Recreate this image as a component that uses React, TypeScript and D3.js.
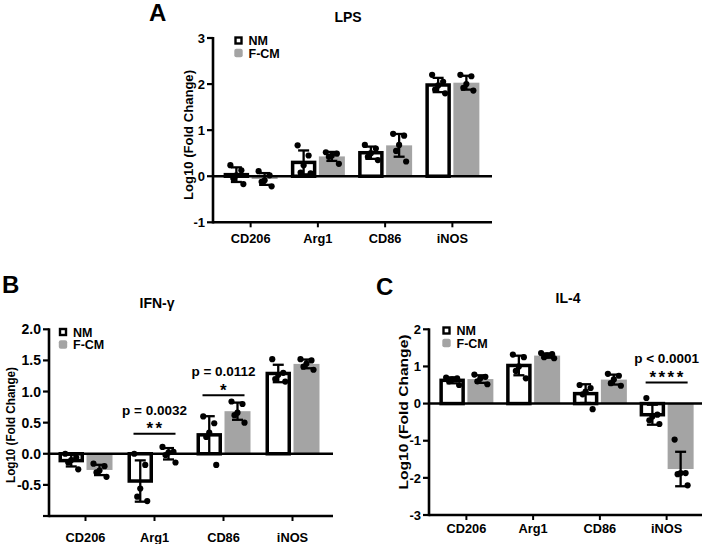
import React from "react";
import * as d3 from "d3";

const categories = ["CD206", "Arg1", "CD86", "iNOS"];
const seriesNames = ["NM", "F-CM"];

// Panel A - LPS (individual replicate values, log10 fold change)
const lpsNM = [
  [0.24, 0.13, 0.02, -0.05, -0.17],
  [0.67, 0.45, 0.24, 0.08, 0.06],
  [0.68, 0.6, 0.5, 0.42, 0.35],
  [2.2, 2.05, 1.97, 1.88, 1.8],
];
const lpsFCM = [
  [0.11, 0.02, -0.09, -0.12, -0.22],
  [0.52, 0.49, 0.45, 0.42, 0.27],
  [0.92, 0.88, 0.68, 0.55, 0.32],
  [2.2, 2.17, 2.0, 1.92, 1.86],
];

// Panel B - IFN-γ
const ifnNM = [
  [0.0, -0.06, -0.1, -0.14, -0.25],
  [0.0, -0.18, -0.56, -0.69, -0.76],
  [0.6, 0.49, 0.34, 0.27, -0.18],
  [1.52, 1.3, 1.27, 1.2, 1.16],
];
const ifnFCM = [
  [-0.16, -0.2, -0.27, -0.3, -0.37],
  [0.11, 0.03, 0.02, -0.02, -0.14],
  [0.84, 0.8, 0.66, 0.62, 0.5],
  [1.52, 1.5, 1.45, 1.4, 1.35],
];

// Panel C - IL-4
const il4NM = [
  [0.7, 0.68, 0.65, 0.6, 0.5],
  [1.32, 1.25, 1.0, 0.88, 0.68],
  [0.5, 0.42, 0.32, 0.25, -0.15],
  [0.15, -0.3, -0.35, -0.45, -0.55],
];
const il4FCM = [
  [0.78, 0.72, 0.68, 0.6, 0.52],
  [1.36, 1.33, 1.3, 1.25, 1.22],
  [0.8, 0.75, 0.65, 0.55, 0.48],
  [-0.97, -1.87, -1.87, -1.9, -2.2],
];

const ticksA = [-1, 0, 1, 2, 3];
const ticksB = [-0.5, 0, 0.5, 1, 1.5, 2];
const ticksC = [-3, -2, -1, 0, 1, 2];

// significance annotations: category, bar height (value), p text, stars
const sigB = [
  { cat: "Arg1", level: 0.32, p: "p = 0.0032", stars: "**" },
  { cat: "CD86", level: 0.94, p: "p = 0.0112", stars: "*" },
];
const sigC = [{ cat: "iNOS", level: 0.57, p: "p < 0.0001", stars: "****" }];

const FONT = "'Liberation Sans', Arial, Helvetica, sans-serif";
const GRAY = "#a4a4a4";
const JITTER = [-6, 5, 0, -3, 7];

type Sig = { cat: string; level: number; p: string; stars: string };
type PanelProps = {
  letter: string;
  letterX: number;
  letterY: number;
  title: string;
  titleX: number;
  titleY: number;
  x0: number;
  x1: number;
  bandL: number;
  bandR: number;
  yTop: number;
  yBot: number;
  domain: [number, number];
  ticks: number[];
  tickSize: number;
  fmt: (v: number) => string;
  catY: number;
  ylabX: number;
  ylabY: number;
  ylabLen: number;
  legX: number;
  legY: number;
  nm: number[][];
  fcm: number[][];
  sig: Sig[];
};

function Panel(p: PanelProps) {
  const y = d3.scaleLinear().domain(p.domain).range([p.yBot, p.yTop]);
  const x = d3.scaleBand().domain(categories).range([p.bandL, p.bandR]).padding(0);
  const center = (c: string) => (x(c) as number) + x.bandwidth() / 2;
  const y0 = y(0);

  const series = [
    { name: seriesNames[0], data: p.nm, off: -14.25, w: 25.5 },
    { name: seriesNames[1], data: p.fcm, off: 14, w: 26 },
  ];

  return (
    <g fontFamily={FONT} fontWeight="bold">
      <text x={p.letterX} y={p.letterY} fontSize={24} fill="#000">
        {p.letter}
      </text>
      <text x={p.titleX} y={p.titleY} fontSize={14} textAnchor="middle">
        {p.title}
      </text>
      <text
        transform={`translate(${p.ylabX},${p.ylabY}) rotate(-90)`}
        fontSize={13}
        textAnchor="middle"
        textLength={p.ylabLen}
        lengthAdjust="spacingAndGlyphs"
      >
        Log10 (Fold Change)
      </text>

      {/* bars */}
      {categories.map((c, i) =>
        series.map((s, si) => {
          const vals = s.data[i];
          const m = d3.mean(vals) as number;
          const cx = center(c) + s.off;
          const top = Math.min(y(m), y0);
          const h = Math.abs(y(m) - y0);
          if (si === 0) {
            const sw = 3.5;
            return (
              <rect
                key={c + s.name}
                x={cx - s.w / 2 + sw / 2}
                y={top}
                width={s.w - sw}
                height={h}
                fill="#fff"
                stroke="#000"
                strokeWidth={sw}
              />
            );
          }
          return <rect key={c + s.name} x={cx - s.w / 2} y={top} width={s.w} height={h} fill={GRAY} />;
        })
      )}

      {/* error bars and points */}
      {categories.map((c, i) =>
        series.map((s) => {
          const vals = s.data[i];
          const m = d3.mean(vals) as number;
          const sd = d3.deviation(vals) as number;
          const cx = center(c) + s.off;
          return (
            <g key={"e" + c + s.name}>
              <line x1={cx} x2={cx} y1={y(m + sd)} y2={y(m - sd)} stroke="#000" strokeWidth={2.3} />
              <line x1={cx - 5.5} x2={cx + 5.5} y1={y(m + sd)} y2={y(m + sd)} stroke="#000" strokeWidth={2.3} />
              <line x1={cx - 5.5} x2={cx + 5.5} y1={y(m - sd)} y2={y(m - sd)} stroke="#000" strokeWidth={2.3} />
              {vals.map((v, k) => (
                <circle key={k} cx={cx + JITTER[k]} cy={y(v)} r={3.1} fill="#000" />
              ))}
            </g>
          );
        })
      )}

      {/* zero line */}
      <line x1={p.x0} x2={p.x1} y1={y0} y2={y0} stroke="#000" strokeWidth={2.5} />
      {/* y axis */}
      <line x1={p.x0} x2={p.x0} y1={p.yTop - 1} y2={p.yBot + 1.2} stroke="#000" strokeWidth={2.6} />
      {/* bottom axis */}
      <line x1={p.x0} x2={p.x1} y1={p.yBot} y2={p.yBot} stroke="#000" strokeWidth={2.6} />
      {p.ticks.map((t) => (
        <g key={"t" + t}>
          <line x1={p.x0 - 6} x2={p.x0} y1={y(t)} y2={y(t)} stroke="#000" strokeWidth={2.2} />
          <text x={p.x0 - 8} y={y(t)} dy="0.36em" fontSize={p.tickSize} textAnchor="end">
            {p.fmt(t)}
          </text>
        </g>
      ))}
      {p.domain[0] !== p.ticks[0] && (
        <line x1={p.x0 - 6} x2={p.x0} y1={p.yBot} y2={p.yBot} stroke="#000" strokeWidth={2.2} />
      )}
      {categories.map((c) => (
        <g key={"c" + c}>
          <line x1={center(c)} x2={center(c)} y1={p.yBot} y2={p.yBot + 5} stroke="#000" strokeWidth={2} />
          <text x={center(c)} y={p.catY} fontSize={12.8} textAnchor="middle">
            {c}
          </text>
        </g>
      ))}

      {/* legend */}
      <rect x={p.legX - 3} y={p.legY - 3} width={6} height={6} fill="#fff" stroke="#000" strokeWidth={2.4} />
      <text x={p.legX + 10} y={p.legY + 4.5} fontSize={12.5}>
        {seriesNames[0]}
      </text>
      <rect x={p.legX - 4.2} y={p.legY + 8.3} width={8.4} height={8.4} rx={2} fill={GRAY} />
      <text x={p.legX + 10} y={p.legY + 17.3} fontSize={12.5}>
        {seriesNames[1]}
      </text>

      {/* significance */}
      {p.sig.map((s) => {
        const c = center(s.cat);
        const ly = y(s.level);
        return (
          <g key={"s" + s.cat}>
            <line x1={c - 21} x2={c + 21} y1={ly} y2={ly} stroke="#000" strokeWidth={2} />
            <text x={c + 1} y={ly + 0.5} fontSize={17} letterSpacing={2.5} textAnchor="middle">
              {s.stars}
            </text>
            <text x={c} y={ly - 19} fontSize={13.5} textAnchor="middle">
              {s.p}
            </text>
          </g>
        );
      })}
    </g>
  );
}

export default function App() {
  return (
    <svg
      width={708}
      height={544}
      viewBox="0 0 708 544"
      style={{ position: "absolute", left: 0, top: 0, background: "#fff" }}
    >
      <rect width={708} height={544} fill="#fff" />
      <Panel
        letter="A"
        letterX={149}
        letterY={21}
        title="LPS"
        titleX={348}
        titleY={21.5}
        x0={213}
        x1={492}
        bandL={217}
        bandR={486}
        yTop={38}
        yBot={222.3}
        domain={[-1, 3]}
        ticks={ticksA}
        tickSize={13}
        fmt={(v) => String(v)}
        catY={242.5}
        ylabX={193}
        ylabY={135}
        ylabLen={130}
        legX={238.5}
        legY={40.5}
        nm={lpsNM}
        fcm={lpsFCM}
        sig={[]}
      />
      <Panel
        letter="B"
        letterX={2}
        letterY={293}
        title="IFN-γ"
        titleX={157}
        titleY={308}
        x0={49}
        x1={333}
        bandL={51}
        bandR={327}
        yTop={329.3}
        yBot={516}
        domain={[-1, 2]}
        ticks={ticksB}
        tickSize={14}
        fmt={(v) => v.toFixed(1)}
        catY={541.5}
        ylabX={15}
        ylabY={425}
        ylabLen={116}
        legX={63}
        legY={332}
        nm={ifnNM}
        fcm={ifnFCM}
        sig={sigB}
      />
      <Panel
        letter="C"
        letterX={376}
        letterY={295}
        title="IL-4"
        titleX={568}
        titleY={302.5}
        x0={429}
        x1={702}
        bandL={433}
        bandR={700}
        yTop={329.3}
        yBot={515}
        domain={[-3, 2]}
        ticks={ticksC}
        tickSize={13}
        fmt={(v) => String(v)}
        catY={532.5}
        ylabX={408}
        ylabY={412}
        ylabLen={155}
        legX={446.5}
        legY={330.5}
        nm={il4NM}
        fcm={il4FCM}
        sig={sigC}
      />
    </svg>
  );
}
